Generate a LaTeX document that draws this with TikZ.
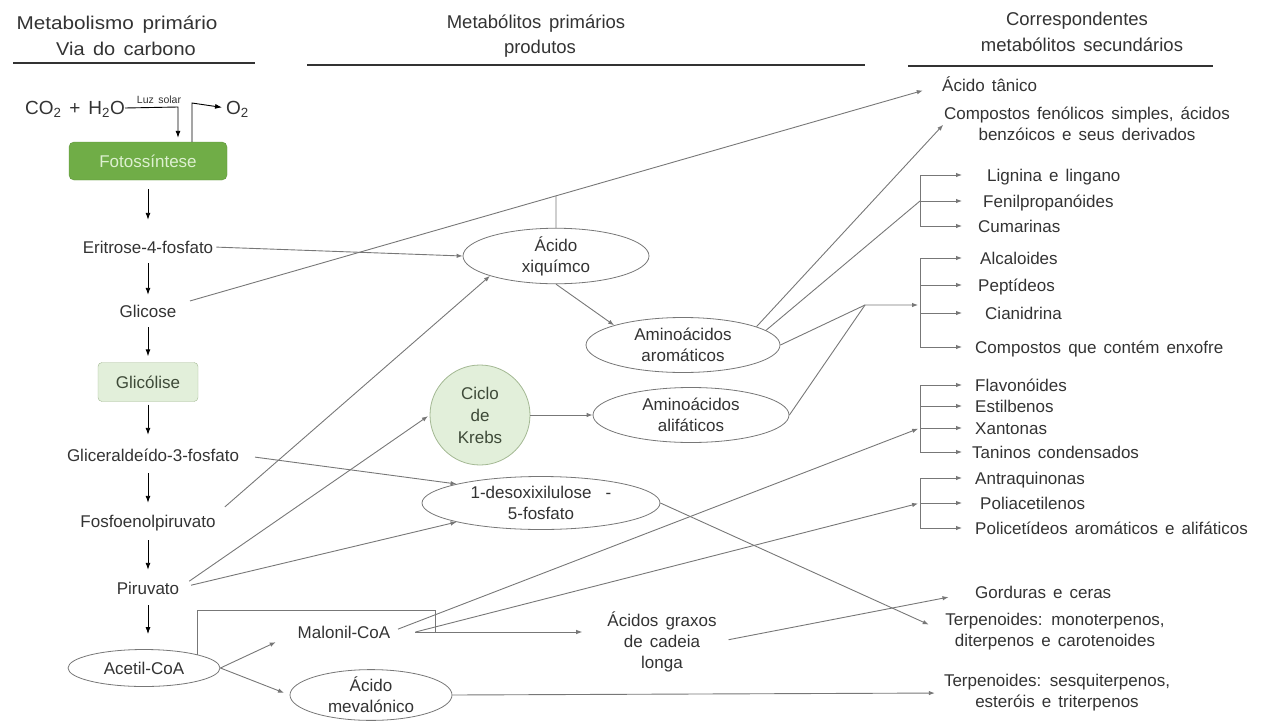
\documentclass[tikz,border=0pt]{standalone}
\usepackage{fontspec}
\setmainfont{Liberation Sans}[WordSpace=1.5]
\usetikzlibrary{arrows.meta,shapes.geometric,calc,intersections}

\definecolor{ink}{HTML}{333333}
\definecolor{wire}{HTML}{777777}
\definecolor{leafdark}{HTML}{70AD47}
\definecolor{leaflight}{HTML}{E2EFDA}
\definecolor{leafedge}{HTML}{A3B893}
\definecolor{leaftext}{HTML}{DDF0D0}
\definecolor{leafink}{HTML}{3E4A38}

\begin{document}
\begin{tikzpicture}[x=1pt,y=-1pt,
  every node/.style={text=ink, font=\fontsize{17}{21}\selectfont},
  lbl/.style={inner sep=0pt, text height=12pt, text depth=0pt},
  multi/.style={inner sep=0pt, align=center},
  oval/.style={ellipse, draw=wire, line width=0.8pt, fill=white, inner sep=0pt, align=center},
  hdr/.style={inner sep=0pt, align=center, font=\fontsize{18.5}{24}\selectfont},
  rulebar/.style={draw=ink, line width=1.6pt},
  blk/.style={draw=black, line width=0.9pt, -{Latex[length=7pt,width=5pt]}},
  wireline/.style={draw=wire, line width=0.9pt},
  wirearrow/.style={wireline, -{Latex[length=6pt,width=4.5pt]}},
]
\useasboundingbox (0,0) rectangle (1268,720);

% ---------- column headings ----------
\node[hdr] (h1a) at (117,25) {\scalebox{1.12}[1]{Metabolismo\ primário}};
\node[hdr] (h1b) at (126,49) {\scalebox{1.08}[1]{Via do carbono}};
\draw[rulebar] (13,63) -- (255,63);
\node[hdr] (h2a) at (536,24) {Metabólitos primários};
\node[hdr] (h2b) at (540,49) {produtos};
\draw[rulebar] (307,65) -- (865,65);
\node[hdr] (h3a) at (1077,21) {Correspondentes};
\node[hdr] (h3b) at (1082,45) {metabólitos secundários};
\draw[rulebar] (908,66) -- (1213,66);

% ---------- carbon route (left column) ----------
\node[lbl, font=\fontsize{19}{22}\selectfont, anchor=east] (co2) at (125,108) {CO\textsubscript{2} + H\textsubscript{2}O};
\node[lbl, font=\fontsize{19}{22}\selectfont, anchor=west] (o2) at (226,108) {O\textsubscript{2}};
\node[inner sep=0pt, font=\fontsize{10.5}{11}\selectfont, anchor=south] (luz) at (159,104) {Luz solar};
\node[draw=leafdark!85!black, fill=leafdark, rounded corners=5pt, minimum width=158pt,
      minimum height=38pt, inner sep=0pt, text=leaftext] (foto) at (148,161) {Fotossíntese};
\coordinate (luzturn) at (178,107);
\coordinate (o2turn) at (192,103);
\draw[blk, shorten >=4pt] (co2.east) -- (luzturn) -- (luzturn |- foto.north);
\draw[blk, shorten >=4pt] (o2turn |- foto.north) -- (o2turn) -- (o2.west);

\node[lbl] (eri) at (148,247) {Eritrose-4-fosfato};
\node[lbl] (gli) at (148,311) {Glicose};
\node[draw=leafedge, fill=leaflight, rounded corners=4pt, minimum width=100pt,
      minimum height=39pt, inner sep=0pt, text=leafink] (glyc) at (148,382) {Glicólise};
\node[lbl] (g3p) at (153,455) {Gliceraldeído-3-fosfato};
\node[lbl] (pep) at (148,521) {Fosfoenolpiruvato};
\node[lbl] (pir) at (148,588) {Piruvato};
\node[oval, minimum width=152pt, minimum height=37pt] (acoa) at (144,668) {Acetil-CoA};

\draw[blk, shorten <=9pt, shorten >=21pt] (foto.south) -- (eri.north);
\draw[blk, shorten <=10pt, shorten >=10pt] (eri.south) -- (gli.north);
\draw[blk, shorten <=10pt, shorten >=6pt] (gli.south) -- (glyc.north);
\draw[blk, shorten <=3pt, shorten >=14pt] (glyc.south) -- (glyc.south |- g3p.north);
\draw[blk, shorten <=12pt, shorten >=12pt] (g3p.south -| pep.south) -- (pep.north);
\draw[blk, shorten <=13pt, shorten >=12pt] (pep.south) -- (pir.north);
\draw[blk, shorten <=11pt, shorten >=15pt] (pir.south) -- (pir.south |- acoa.north);

% ---------- primary products (middle) ----------
\node[oval, minimum width=186pt, minimum height=54pt] (xiq) at (556,256) {Ácido\\xiquímco};
\node[oval, minimum width=194pt, minimum height=55pt] (arom) at (683,345) {Aminoácidos\\aromáticos};
\node[circle, draw=leafedge, line width=0.8pt, fill=leaflight, minimum size=100pt, inner sep=0pt,
      align=center, text=leafink, font=\fontsize{17}{22}\selectfont] (krebs) at (480,415) {Ciclo\\de\\Krebs};
\node[oval, minimum width=196pt, minimum height=55pt] (ali) at (691,415) {Aminoácidos\\alifáticos};
\node[oval, minimum width=238pt, minimum height=53pt] (dxp) at (541,503) {1-desoxixilulose\ \ -\\5-fosfato};
\node[lbl] (mal) at (344,632) {Malonil-CoA};
\node[multi] (fa) at (662,642) {Ácidos graxos\\de cadeia\\longa};
\node[oval, minimum width=162pt, minimum height=45pt] (mev) at (371,695) {Ácido\\mevalónico};

% ---------- secondary metabolites (right column) ----------
\node[lbl, anchor=west] (tan) at (942,85) {Ácido tânico};
\node[multi] (cfs) at (1087,124) {Compostos fenólicos simples, ácidos\\benzóicos e seus derivados};
\node[lbl, anchor=west] (lig) at (987,175) {Lignina e lingano};
\node[lbl, anchor=west] (fen) at (983,201) {Fenilpropanóides};
\node[lbl, anchor=west] (cum) at (978,226) {Cumarinas};
\node[lbl, anchor=west] (alc) at (980,258) {Alcaloides};
\node[lbl, anchor=west] (ptd) at (978,285) {Peptídeos};
\node[lbl, anchor=west] (cia) at (985,313) {Cianidrina};
\node[lbl, anchor=west] (enx) at (975,347) {Compostos que contém enxofre};
\node[lbl, anchor=west] (fla) at (975,385) {Flavonóides};
\node[lbl, anchor=west] (est) at (975,406) {Estilbenos};
\node[lbl, anchor=west] (xan) at (975,428) {Xantonas};
\node[lbl, anchor=west] (tcd) at (972,452) {Taninos condensados};
\node[lbl, anchor=west] (antr) at (975,478) {Antraquinonas};
\node[lbl, anchor=west] (pol) at (980,503) {Poliacetilenos};
\node[lbl, anchor=west] (pkt) at (975,528) {Policetídeos aromáticos e alifáticos};
\node[lbl, anchor=west] (gor) at (975,592) {Gorduras e ceras};
\node[multi] (mono) at (1055,632) {Terpenoides: monoterpenos,\\diterpenos e carotenoides};
\node[multi] (sesq) at (1057,693) {Terpenoides: sesquiterpenos,\\esteróis e triterpenos};

% bracket spines and tips
\coordinate (bx) at (920,0);
\coordinate (tx) at (962,0);
\draw[wireline] (lig.west -| bx) -- (cum.west -| bx);
\draw[wireline] (alc.west -| bx) -- (enx.west -| bx);
\draw[wireline] (fla.west -| bx) -- (tcd.west -| bx);
\draw[wireline] (antr.west -| bx) -- (pkt.west -| bx);
\foreach \n in {lig,fen,cum,alc,ptd,cia,enx,fla,est,xan,tcd,antr,pol,pkt}
  \draw[wirearrow] (\n.west -| bx) -- (\n.west -| tx);

% ---------- connectors ----------
\draw[wirearrow, name path=gtan, shorten <=14pt, shorten >=20pt] (gli.north east) -- (tan.west);
\path[name path=xup] (xiq.north) -- ++(0,-120);
\draw[wireline, name intersections={of=gtan and xup}] (xiq.north) -- (intersection-1);

\draw[wirearrow, shorten <=3pt] (eri.east) -- (xiq.west);
\draw[wirearrow, shorten <=12pt] (pep.north east) -- (xiq.south west);
\draw[wirearrow] (xiq.south) -- (arom.north west);
\draw[wirearrow, shorten <=12pt, shorten >=2pt] (pir.east) -- (krebs.west);
\draw[wirearrow, shorten <=12pt] (pir.east) -- (dxp.south west);
\draw[wirearrow, shorten <=16pt] (g3p.east) -- (dxp.north west);
\draw[wirearrow] (krebs.east) -- (ali.west);

\draw[wirearrow, shorten >=1pt] (arom.14) -- (cfs.west);
\draw[wireline] (arom.10) -- (fen.west -| bx);
\coordinate (j2) at (865,305);
\draw[wirearrow, shorten >=2pt] (arom.east) -- (j2) -- (j2 -| bx);
\draw[wireline] (ali.east) -- (j2);

\draw[wirearrow, shorten >=24pt] (acoa.east) -- (mal.west);
\draw[wirearrow, shorten >=6pt] (acoa.east) -- (mev.west);
\coordinate (mx) at ($(mal.east)+(25,0)$);
\coordinate (bk) at (435,610);
\draw[wireline] (acoa.14) |- (bk) -- (bk |- mx);
\draw[wirearrow, shorten >=25pt] (mx) -- (mx -| fa.west);
\draw[wirearrow, shorten <=8pt, shorten >=2pt] (mal.east) -- (xan.west -| bx);
\draw[wirearrow, shorten >=2pt] (mx) -- (pol.west -| bx);

\draw[wirearrow, shorten <=12pt, shorten >=27pt] (fa.east) -- (gor.west);
\draw[wirearrow, shorten >=18pt] (dxp.east) -- (mono.west);
\draw[wirearrow, shorten >=9pt] (mev.east) -- (sesq.west);
\end{tikzpicture}
\end{document}
